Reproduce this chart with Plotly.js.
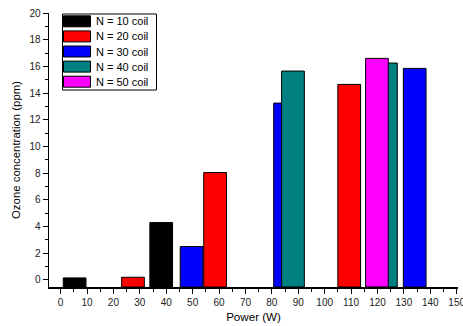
<!DOCTYPE html>
<html>
<head>
<meta charset="utf-8">
<script src="https://cdn.plot.ly/plotly-3.0.1.min.js"></script>
<style>html,body{margin:0;padding:0;background:#fff;}#chart{width:463px;height:326px;}</style>
</head>
<body>
<div id="chart"></div>
<script>
// Series data (Power in W, Ozone concentration in ppm)
const seriesNames = ["N = 10 coil", "N = 20 coil", "N = 30 coil", "N = 40 coil", "N = 50 coil"];
const seriesColors = ["#000000", "#FF0000", "#0000FF", "#008080", "#FF00FF"];
const n10Power = [5.3, 38.1];
const n10Ozone = [0.15, 4.3];
const n20Power = [27.4, 58.5, 109.3];
const n20Ozone = [0.2, 8.05, 14.65];
const n30Power = [49.6, 85.0, 134.1];
const n30Ozone = [2.5, 13.25, 15.85];
const n40Power = [88.0, 123.2];
const n40Ozone = [15.65, 16.25];
const n50Power = [119.8];
const n50Ozone = [16.6];

const powers = [n10Power, n20Power, n30Power, n40Power, n50Power];
const ozones = [n10Ozone, n20Ozone, n30Ozone, n40Ozone, n50Ozone];

const yMin = -0.53;
const barWidth = 8.6;

const traces = seriesNames.map((name, i) => ({
  type: 'bar',
  name: name,
  x: powers[i],
  y: ozones[i].map(v => v - yMin),
  base: yMin,
  width: barWidth,
  marker: {color: seriesColors[i], line: {color: '#000', width: 1}},
  showlegend: false
}));

const M = {l: 49, r: 5, t: 13, b: 39};
const W = 463, H = 326;
const pw = W - M.l - M.r, ph = H - M.t - M.b;
const px = x => (x - M.l) / pw;
const py = y => 1 - (y - M.t) / ph;

// custom legend
const shapes = [{
  type: 'rect', xref: 'paper', yref: 'paper',
  x0: px(62.5), x1: px(156.5), y0: py(90), y1: py(14),
  line: {color: '#000', width: 1}, fillcolor: 'rgba(0,0,0,0)'
}];
const annotations = [];
seriesNames.forEach((name, i) => {
  const cy = 21.3 + i * 15.1;
  shapes.push({
    type: 'rect', xref: 'paper', yref: 'paper',
    x0: px(63.5), x1: px(90.5), y0: py(cy + 5.5), y1: py(cy - 5.5),
    line: {color: '#000', width: 1}, fillcolor: seriesColors[i]
  });
  annotations.push({
    xref: 'paper', yref: 'paper', x: px(94), y: py(cy),
    xanchor: 'left', yanchor: 'middle', showarrow: false,
    text: name, font: {family: 'Liberation Sans, Arial, sans-serif', size: 11, color: '#000'}
  });
});

const layout = {
  width: W, height: H,
  margin: M,
  paper_bgcolor: '#fff', plot_bgcolor: '#fff',
  barmode: 'overlay',
  font: {family: 'Liberation Sans, Arial, sans-serif', size: 10, color: '#222'},
  xaxis: {
    range: [-4.4, 150.5],
    tickmode: 'linear', tick0: 0, dtick: 10,
    ticks: 'outside', ticklen: 5, tickwidth: 1, tickcolor: '#000',
    minor: {dtick: 5, ticklen: 3, ticks: 'outside', tickcolor: '#000', tickwidth: 1},
    showline: true, linecolor: '#000', linewidth: 1.5,
    showgrid: false, zeroline: false,
    ticklabeloverflow: 'allow',
    tickfont: {size: 10, color: '#222'},
    title: {text: 'Power (W)', font: {size: 11.6, color: '#000'}, standoff: 6}
  },
  yaxis: {
    range: [yMin, 20],
    tickmode: 'linear', tick0: 0, dtick: 2,
    ticks: 'outside', ticklen: 5, tickwidth: 1, tickcolor: '#000',
    minor: {dtick: 1, ticklen: 3, ticks: 'outside', tickcolor: '#000', tickwidth: 1},
    showline: true, linecolor: '#000', linewidth: 1.5,
    showgrid: false, zeroline: false,
    tickfont: {size: 10, color: '#222'},
    title: {text: 'Ozone concentration (ppm)', font: {size: 11.4, color: '#000'}, standoff: 6}
  },
  shapes: shapes,
  annotations: annotations
};

Plotly.newPlot('chart', traces, layout, {displayModeBar: false, staticPlot: true});
</script>
</body>
</html>
